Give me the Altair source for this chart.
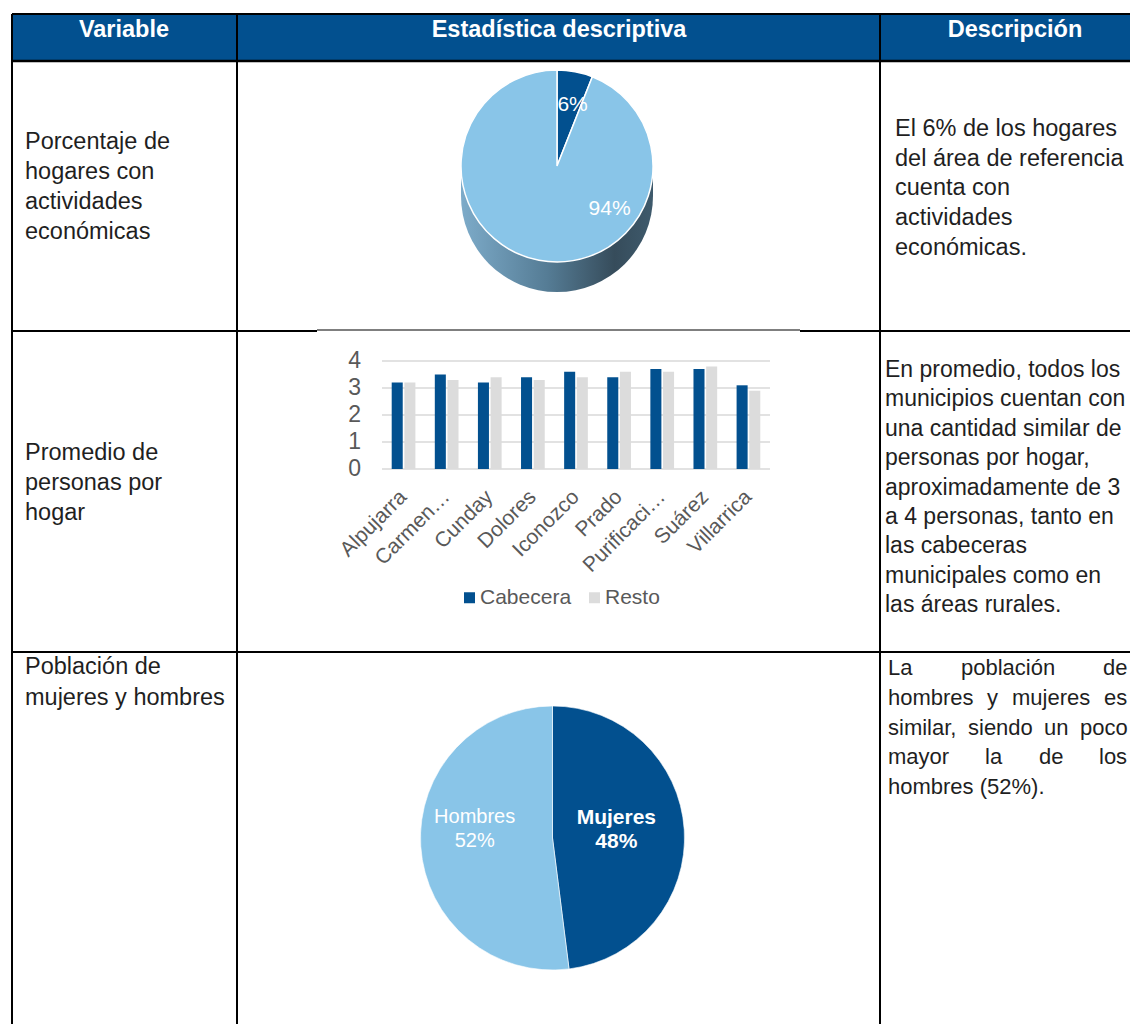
import math
import altair as alt
import pandas as pd

OFF = 8  # page margin: chart coordinates = page coordinates - 8


def P(v):
    return v - OFF


FONT = "Liberation Sans"
DARK = "#02508F"
LIGHT = "#89C5E8"
GREY = "#DCDCDC"
TEXT = "#1f1f1f"
AXIS_TXT = "#595959"

# ---------------- data ----------------
headers = ["Variable", "Estadística descriptiva", "Descripción"]

var_row1 = ["Porcentaje de", "hogares con", "actividades", "económicas"]
var_row2 = ["Promedio de", "personas por", "hogar"]
var_row3 = ["Población de", "mujeres y hombres"]

desc_row1 = ["El 6% de los hogares", "del área de referencia", "cuenta con",
             "actividades", "económicas."]
desc_row2 = ["En promedio, todos los", "municipios cuentan con",
             "una cantidad similar de", "personas por hogar,",
             "aproximadamente de 3", "a 4 personas, tanto en",
             "las cabeceras", "municipales como en", "las áreas rurales."]
desc_row3 = [["La", "población", "de"],
             ["hombres", "y", "mujeres", "es"],
             ["similar,", "siendo", "un", "poco"],
             ["mayor", "la", "de", "los"],
             ["hombres (52%)."]]

pie1_partes = ["Con actividades económicas", "Sin actividades económicas"]
pie1_valores = [6, 94]

municipios = ["Alpujarra", "Carmen…", "Cunday", "Dolores", "Iconozco",
              "Prado", "Purificaci…", "Suárez", "Villarrica"]
series = ["Cabecera", "Resto"]
cabecera = [3.2, 3.5, 3.2, 3.4, 3.6, 3.4, 3.7, 3.7, 3.1]
resto = [3.2, 3.3, 3.4, 3.3, 3.4, 3.6, 3.6, 3.8, 2.9]
y_ticks = [0, 1, 2, 3, 4]

pie2_partes = ["Mujeres", "Hombres"]
pie2_valores = [48, 52]

# ---------------- layout (page coordinates) ----------------
header_x = [124, 559, 1015]
header_y = 30
var_x = 25
var_y = [[142, 172, 202, 232], [453, 483, 513], [667, 698]]
desc1_x, desc1_y = 895, [129, 159, 188, 218, 248]
desc2_x, desc2_y = 885, [370, 399, 429, 458, 488, 517, 546, 576, 605]
desc3_y = [668, 698, 728, 757, 787]
desc3_x = [[888, 961, 1103], [888, 987, 1012, 1104],
           [888, 968, 1044, 1080], [888, 985, 1039, 1099], [888]]

segments = [  # x, y, x2, y2, width
    (12, 14, 1138, 14, 2.0),
    (12, 61, 1138, 61, 2.5),
    (12, 14, 12, 1040, 2.0),
    (237, 14, 237, 1040, 2.0),
    (880, 14, 880, 1040, 2.0),
    (12, 331, 317, 331, 2.2),
    (317, 330, 800, 330, 1.2),
    (800, 331, 1138, 331, 2.2),
    (12, 652, 1138, 652, 2.0),
]

# ---------------- tables ----------------
seg_df = pd.DataFrame([
    {"x": P(a), "y": P(b), "x2": P(c), "y2": P(d), "w": w} for a, b, c, d, w in segments
])

head_df = pd.DataFrame({"x": [P(v) for v in header_x],
                        "y": [P(header_y)] * 3, "t": headers})

var_rows = []
for lines_, ys in zip([var_row1, var_row2, var_row3], var_y):
    for t, yy in zip(lines_, ys):
        var_rows.append({"x": P(var_x), "y": P(yy), "t": t})
var_df = pd.DataFrame(var_rows)

desc1_df = pd.DataFrame([{"x": P(desc1_x), "y": P(yy), "t": t}
                         for t, yy in zip(desc_row1, desc1_y)])
desc2_df = pd.DataFrame([{"x": P(desc2_x), "y": P(yy), "t": t}
                         for t, yy in zip(desc_row2, desc2_y)])

desc3_rows = []
for words, xs, yy in zip(desc_row3, desc3_x, desc3_y):
    for w, xx in zip(words, xs):
        desc3_rows.append({"x": P(xx), "y": P(yy), "t": w})
desc3_df = pd.DataFrame(desc3_rows)

bar_df = pd.DataFrame({
    "municipio": municipios * 2,
    "serie": [series[0]] * len(municipios) + [series[1]] * len(municipios),
    "valor": cabecera + resto,
})

# ---------------- table frame ----------------
header_fill = alt.Chart(pd.DataFrame({"a": [0]})).mark_rect(color=DARK).encode(
    x=alt.value(P(12)), x2=alt.value(P(1138)), y=alt.value(P(14)), y2=alt.value(P(61))
)

lines = alt.Chart(seg_df).mark_rule(color="black").encode(
    x=alt.X("x:Q", scale=None, axis=None), x2="x2:Q",
    y=alt.Y("y:Q", scale=None, axis=None), y2="y2:Q",
    strokeWidth=alt.StrokeWidth("w:Q", scale=None, legend=None),
)


def text_layer(df, size, color=TEXT, weight="normal", align="left"):
    return alt.Chart(df).mark_text(
        font=FONT, fontSize=size, fontWeight=weight, color=color,
        align=align, baseline="middle"
    ).encode(x=alt.X("x:Q", scale=None, axis=None),
             y=alt.Y("y:Q", scale=None, axis=None), text="t:N")


head_text = text_layer(head_df, 23.5, color="white", weight="bold", align="center")
var_text = text_layer(var_df, 23.5)
desc1_text = text_layer(desc1_df, 23.5)
desc2_text = text_layer(desc2_df, 23)
desc3_text = text_layer(desc3_df, 22)

# ---------------- pie 1 (with drum side) ----------------
TAU = 2 * math.pi
theta_scale = alt.Scale(domain=[0, 100], range=[0, TAU])
C1X, C1Y, R1, DEPTH = 557, 166, 96, 30

side_grad = alt.LinearGradient(
    gradient="linear", x1=0, x2=1, y1=0, y2=0,
    stops=[alt.GradientStop(color="#7DABC9", offset=0),
           alt.GradientStop(color="#557C95", offset=0.45),
           alt.GradientStop(color="#364C5B", offset=0.8),
           alt.GradientStop(color="#3E5A6C", offset=1)],
)
side_base = alt.Chart(pd.DataFrame({"a": [0]})).mark_arc(
    fill=side_grad, radius=R1
).encode(x=alt.value(P(C1X)), y=alt.value(P(C1Y + DEPTH)),
         theta=alt.value(0), theta2=alt.value(TAU))
side_rect = alt.Chart(pd.DataFrame({"a": [0]})).mark_rect(fill=side_grad).encode(
    x=alt.value(P(C1X - R1)), x2=alt.value(P(C1X + R1)),
    y=alt.value(P(C1Y)), y2=alt.value(P(C1Y + DEPTH)))


def pie_base(partes, valores):
    return alt.Chart(pd.DataFrame({"parte": partes, "valor": valores,
                                   "orden": list(range(len(partes)))})).transform_window(
        fin="sum(valor)", sort=[alt.SortField("orden")], frame=[None, 0]
    ).transform_calculate(
        ini="datum.fin - datum.valor",
        mid="(datum.fin + datum.ini) / 2",
        etiqueta="datum.valor + '%'",
    )


p1 = pie_base(pie1_partes, pie1_valores)
pie1 = p1.mark_arc(radius=R1, stroke="white", strokeWidth=1.5).encode(
    theta=alt.Theta("ini:Q", scale=theta_scale, stack=None), theta2="fin:Q",
    color=alt.Color("parte:N", scale=alt.Scale(domain=pie1_partes, range=[DARK, LIGHT]),
                    legend=None),
    x=alt.value(P(C1X)), y=alt.value(P(C1Y)),
)
pie1_lab_a = p1.transform_filter(alt.datum.orden == 0).mark_text(
    radius=62, font=FONT, fontSize=21, color="white", baseline="middle", align="center",
    dx=4
).encode(theta=alt.Theta("mid:Q", scale=theta_scale, stack=None), text="etiqueta:N",
         x=alt.value(P(C1X)), y=alt.value(P(C1Y)))
pie1_lab_b = p1.transform_filter(alt.datum.orden == 1).mark_text(
    radius=50, font=FONT, fontSize=21, color="white", baseline="middle", align="center",
    dx=62, dy=-6
).encode(theta=alt.Theta("mid:Q", scale=theta_scale, stack=None), text="etiqueta:N",
         x=alt.value(P(C1X)), y=alt.value(P(C1Y)))

# ---------------- bar chart ----------------
xscale = alt.Scale(domain=municipios, range=[P(382), P(770)],
                   paddingInner=0.45, paddingOuter=0.225)
yscale = alt.Scale(domain=[0, 4], range=[P(469), P(361)], nice=False, zero=True)

grid = alt.Chart(pd.DataFrame({"v": y_ticks})).mark_rule(color="#D9D9D9", strokeWidth=1.6).encode(
    y=alt.Y("v:Q", scale=yscale, axis=None),
    x=alt.value(P(382)), x2=alt.value(P(770)))

ylabels = alt.Chart(pd.DataFrame({"v": y_ticks})).mark_text(
    font=FONT, fontSize=23, color=AXIS_TXT, align="right", baseline="middle"
).encode(y=alt.Y("v:Q", scale=yscale, axis=None), x=alt.value(P(361)), text="v:Q")

bars = alt.Chart(bar_df).mark_bar().encode(
    x=alt.X("municipio:N", scale=xscale, axis=None),
    xOffset=alt.XOffset("serie:N", scale=alt.Scale(domain=series, paddingInner=0.13)),
    y=alt.Y("valor:Q", scale=yscale, axis=None),
    color=alt.Color("serie:N", scale=alt.Scale(domain=series, range=[DARK, GREY]),
                    legend=alt.Legend(orient="none", legendX=P(459), legendY=P(587),
                                      direction="horizontal", title=None,
                                      symbolType="square", symbolSize=121,
                                      symbolStrokeWidth=0,
                                      labelFont=FONT, labelFontSize=21,
                                      labelColor=AXIS_TXT, labelOffset=0,
                                      columnPadding=12, padding=0)),
)

xlabels = alt.Chart(pd.DataFrame({"municipio": municipios})).mark_text(
    font=FONT, fontSize=21, color=AXIS_TXT, angle=315, align="right",
    baseline="middle"
).encode(x=alt.X("municipio:N", scale=xscale, axis=None),
         y=alt.value(P(494)), text="municipio:N")

# ---------------- pie 2 ----------------
C2X, C2Y, R2 = 552.5, 838, 132
p2 = pie_base(pie2_partes, pie2_valores).transform_calculate(
    rotulo="datum.parte + '\\n' + datum.valor + '%'")
pie2 = p2.mark_arc(radius=R2, stroke="white", strokeWidth=0.6).encode(
    theta=alt.Theta("ini:Q", scale=theta_scale, stack=None), theta2="fin:Q",
    color=alt.Color("parte:N", scale=alt.Scale(domain=pie2_partes, range=[DARK, LIGHT]),
                    legend=None),
    x=alt.value(P(C2X)), y=alt.value(P(C2Y)),
)
pie2_lab_m = p2.transform_filter(alt.datum.orden == 0).mark_text(
    radius=64, font=FONT, fontSize=21, fontWeight="bold", color="white",
    align="center", baseline="middle", lineBreak="\n", lineHeight=24, dy=-16
).encode(theta=alt.Theta("mid:Q", scale=theta_scale, stack=None), text="rotulo:N",
         x=alt.value(P(C2X)), y=alt.value(P(C2Y)))
pie2_lab_h = p2.transform_filter(alt.datum.orden == 1).mark_text(
    radius=78, font=FONT, fontSize=20, color="white",
    align="center", baseline="middle", lineBreak="\n", lineHeight=24, dy=-26
).encode(theta=alt.Theta("mid:Q", scale=theta_scale, stack=None), text="rotulo:N",
         x=alt.value(P(C2X)), y=alt.value(P(C2Y)))

chart = alt.layer(
    header_fill, lines, head_text, var_text, desc1_text, desc2_text, desc3_text,
    side_base, side_rect, pie1, pie1_lab_a, pie1_lab_b,
    grid, ylabels, bars, xlabels,
    pie2, pie2_lab_m, pie2_lab_h,
).resolve_scale(
    x="independent", y="independent", color="independent", theta="independent"
).resolve_legend(color="independent").properties(
    width=1122, height=1016, autosize=alt.AutoSizeParams(type="none"), padding=0,
    background="white"
).configure_view(stroke=None)

chart.save("out.html", embed_options={"renderer": "svg", "actions": False})
